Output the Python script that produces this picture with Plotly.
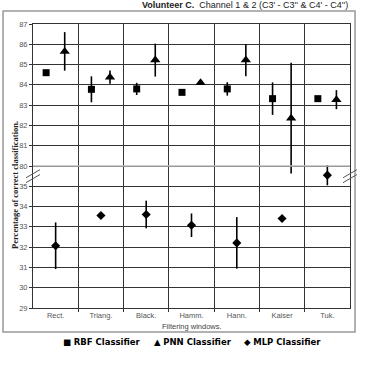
import plotly.graph_objects as go

categories = ["Rect.", "Triang.", "Black.", "Hamm.", "Hann.", "Kaiser", "Tuk."]
rbf_mean = [84.6, 83.78, 83.8, 83.63, 83.8, 83.32, 83.32]
rbf_err = [0.1, 0.64, 0.3, 0.05, 0.33, 0.8, 0.08]
pnn_mean = [85.65, 84.38, 85.22, 84.1, 85.22, 82.36, 83.27]
pnn_err = [0.95, 0.33, 0.81, 0.04, 0.8, 2.73, 0.47]
mlp_mean = [32.07, 33.56, 33.61, 33.08, 32.21, 33.41, 35.55]
mlp_err = [1.15, 0.08, 0.68, 0.58, 1.27, 0.06, 0.5]
upper_ticks = [80, 81, 82, 83, 84, 85, 86, 87]
lower_ticks = [29, 30, 31, 32, 33, 34, 35]
series_names = ["RBF Classifier", "PNN Classifier", "MLP Classifier"]
series_glyphs = ["■", "▲", "◆"]
BREAK_SHIFT = 44  # upper segment (80..87) is drawn just above 35

xi = list(range(len(categories)))
tickvals = lower_ticks + [t - BREAK_SHIFT for t in upper_ticks]
ticktext = [str(t) for t in lower_ticks + upper_ticks]

fig = go.Figure()
fig.add_trace(go.Scatter(
    x=[i - 0.21 for i in xi], y=[v - BREAK_SHIFT for v in rbf_mean],
    mode="markers", name=series_names[0],
    marker=dict(symbol="square", size=7, color="black"),
    error_y=dict(type="data", array=rbf_err, color="black", thickness=1.6, width=0),
))
fig.add_trace(go.Scatter(
    x=[i + 0.2 for i in xi], y=[v - BREAK_SHIFT for v in pnn_mean],
    mode="markers", name=series_names[1],
    marker=dict(symbol="triangle-up", size=9, color="black"),
    error_y=dict(type="data", array=pnn_err, color="black", thickness=1.6, width=0),
))
fig.add_trace(go.Scatter(
    x=xi, y=mlp_mean,
    mode="markers", name=series_names[2],
    marker=dict(symbol="diamond", size=7, color="black"),
    error_y=dict(type="data", array=mlp_err, color="black", thickness=1.6, width=0),
))

grid_col = "#333333"
fig.update_layout(
    width=365, height=365,
    margin=dict(l=33, r=15, t=24, b=57),
    paper_bgcolor="white", plot_bgcolor="white",
    font=dict(family="Liberation Sans, Arial, sans-serif", size=8, color="#444"),
    showlegend=False,
    xaxis=dict(range=[-0.5, 6.5], tickvals=xi, ticktext=categories, showgrid=False,
               ticks="", showline=True, linecolor=grid_col, mirror=True, zeroline=False,
               tickfont=dict(size=7.5, color="#555"),
               minor=dict(tickvals=[i + 0.5 for i in xi[:-1]], showgrid=True,
                          gridcolor=grid_col, gridwidth=1, ticks="outside", ticklen=3,
                          tickcolor=grid_col)),
    yaxis=dict(range=[29, 43], tickvals=tickvals, ticktext=ticktext, showgrid=True,
               gridcolor=grid_col, gridwidth=1, ticks="outside", ticklen=3, tickcolor=grid_col,
               showline=True, linecolor=grid_col, mirror=True, zeroline=False,
               tickfont=dict(size=7.5, color="#555")),
)

# lighter gridline at the break (80)
fig.add_shape(type="line", xref="paper", yref="y", x0=0, x1=1, y0=36, y1=36,
              line=dict(color="#bbbbbb", width=1.5), layer="above")
# break marks
for dx in (0.0, 1.0):
    for off in (-0.12, 0.12):
        fig.add_shape(type="line", xref="paper", yref="y",
                      x0=dx - 0.022, x1=dx + 0.022, y0=35.3 + off, y1=35.7 + off,
                      line=dict(color="#555", width=1), layer="above")
# outer frame
fig.add_shape(type="rect", xref="paper", yref="paper", x0=-0.0946, x1=1.0158,
              y0=-0.0845, y1=1.0458, line=dict(color="#999", width=1.5), layer="below")

fig.add_annotation(text="<b>Volunteer C.</b>  Channel 1 & 2 (C3' - C3'' & C4' - C4'')",
                   xref="paper", yref="paper", x=0.3375, y=1.067, xanchor="left", yanchor="middle",
                   showarrow=False, font=dict(size=9, color="#222"))
fig.add_annotation(text="<b>Percentage of correct classification.</b>", textangle=-90,
                   xref="paper", yref="paper", x=-0.057, y=0.433, xanchor="center", yanchor="middle",
                   showarrow=False, font=dict(family="Liberation Serif, Times New Roman, serif", size=8.5, color="#222"))
fig.add_annotation(text="Filtering windows.", xref="paper", yref="paper", x=0.5, y=-0.066,
                   xanchor="center", yanchor="middle", showarrow=False,
                   font=dict(size=7.5, color="#444"))

# legend row (manual, matching the reference's compact layout)
legend_x = [0.0883, 0.3754, 0.6593]
for name, glyph, lx in zip(series_names, series_glyphs, legend_x):
    fig.add_annotation(text=f"{glyph} <b>{name}</b>", xref="paper", yref="paper",
                       x=lx, y=-0.1197, xanchor="left", yanchor="middle", showarrow=False,
                       font=dict(family="DejaVu Sans, Liberation Sans, sans-serif", size=8.5, color="black"))

fig.write_html("out.html", config={"displayModeBar": False},
               post_script="document.body.style.margin='0';")
